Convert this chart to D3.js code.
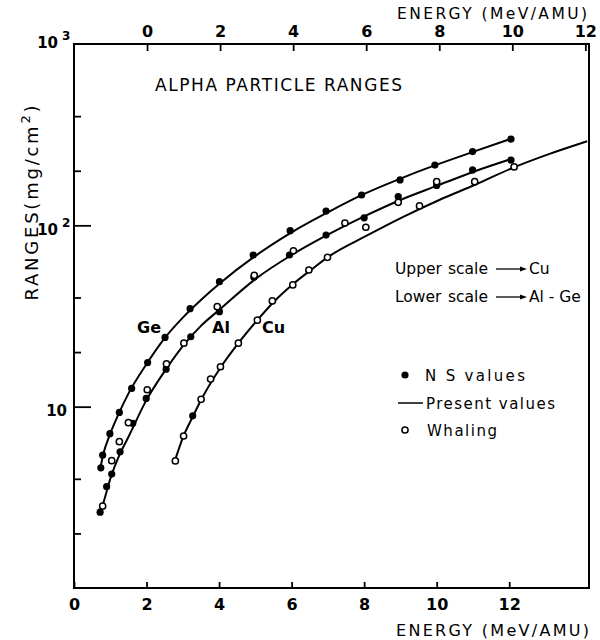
<!DOCTYPE html>
<html><head><meta charset="utf-8">
<script src="https://cdn.jsdelivr.net/npm/d3@7"></script>
<style>
body{margin:0;background:#fff;}
svg{display:block;font-family:"DejaVu Sans",sans-serif;}
</style></head>
<body><svg id="chart" width="600" height="640"></svg>
<script>
// Energy ticks (MeV/AMU): lower scale for Al and Ge, upper scale for Cu
const lowerTicks = [0, 2, 4, 6, 8, 10, 12];
const upperTicks = [0, 2, 4, 6, 8, 10, 12];
const majorRangeTicks = [10, 100];
const minorRangeTicks = [2, 4, 20, 40, 200, 400];

// Present values (solid curves): [energy, range in mg/cm2]
const geCurve = [[0.72,4.5],[0.8,5.4],[1.0,7.1],[1.25,9.3],[1.5,11.8],[2.0,17.2],[2.5,23.9],[3.0,31],[3.5,38.8],[4.0,47.5],[5.0,67.8],[6.0,91.5],[7.0,118],[8.0,149],[9.0,181],[10.0,216],[11.0,254],[12.05,300]];
const alCurve = [[0.72,2.6],[0.8,2.9],[1.0,4.0],[1.25,5.4],[1.5,6.8],[2.0,10.9],[2.5,15.7],[3.0,21.6],[3.5,27.9],[4.0,34.1],[5.0,50.5],[6.0,68.6],[7.0,88.8],[8.0,112],[9.0,138],[10.0,165],[11.0,197],[12.05,232]];
const cuCurve = [[0.75,4.95],[1.0,6.9],[1.25,8.8],[1.5,11.1],[2.0,16.3],[2.5,22.4],[3.0,29.7],[3.5,38.4],[4.0,47.5],[4.5,57],[5.0,67.8],[6.0,87.4],[7.0,111],[8.0,138],[9.0,168],[10.0,207],[11.0,247],[12.05,291]];

// NS values (filled dots)
const geNS = [[0.74,4.6],[0.79,5.4],[0.99,7.1],[1.25,9.3],[1.59,12.6],[2.03,17.5],[2.51,24.1],[3.2,34.7],[4.01,48.9],[4.94,68.6],[5.96,93.4],[6.95,120],[7.93,147],[8.99,178],[9.95,215],[10.99,255],[12.05,299]];
const alNS = [[0.72,2.62],[0.90,3.62],[1.04,4.25],[1.27,5.64],[1.62,8.09],[1.99,11.1],[2.54,16.1],[3.22,24.3],[4.01,33.4],[4.96,51.7],[5.94,68.6],[6.95,88.4],[8.0,110],[8.94,144],[10.0,166],[10.99,202],[12.05,229]];
const cuNS = [[1.25,8.9]];

// Whaling (open circles)
const alWhaling = [[0.79,2.83],[1.04,5.04],[1.25,6.41],[1.50,8.16],[2.02,12.4],[2.55,17.2],[3.03,22.4],[3.95,35.6],[4.97,53],[6.05,72.4],[7.47,103],[8.94,134],[10.0,174]];
const cuWhaling = [[0.775,5.02],[1.00,6.89],[1.48,10.98],[1.74,14.2],[2.01,16.6],[2.50,22.4],[3.02,30.0],[3.43,38.3],[3.99,46.9],[4.43,56.7],[4.94,66.6],[5.99,97.6],[7.46,128],[8.97,174],[10.05,210]];

const svg = d3.select("#chart");
const L = 74, R = 589, T = 44, B = 588;

const xLower = d3.scaleLinear().domain([0, 14.2]).range([L, R]);
const xUpper = d3.scaleLinear().domain([-2, 12.1]).range([L, R]);
const y = d3.scaleLog().domain([1, 1000]).range([B, T]);

// frame
svg.append("rect").attr("x", L).attr("y", T).attr("width", R - L).attr("height", B - T)
  .attr("fill", "none").attr("stroke", "#000").attr("stroke-width", 2);

// bottom axis
const gB = svg.append("g").attr("transform", `translate(0,${B})`)
  .call(d3.axisBottom(xLower).tickValues(lowerTicks).tickSizeInner(-6).tickSizeOuter(0).tickPadding(11));
// top axis
const gT = svg.append("g").attr("transform", `translate(0,${T})`)
  .call(d3.axisTop(xUpper).tickValues(upperTicks).tickSizeInner(-7).tickSizeOuter(0).tickPadding(7));
// left ticks (inward)
const gM = svg.append("g").attr("transform", `translate(${L},0)`)
  .call(d3.axisRight(y).tickValues(majorRangeTicks).tickSize(17).tickFormat(""));
const gm = svg.append("g").attr("transform", `translate(${L},0)`)
  .call(d3.axisRight(y).tickValues(minorRangeTicks).tickSize(7).tickFormat(""));

[gB, gT, gM, gm].forEach(g => {
  g.select(".domain").remove();
  g.selectAll(".tick line").attr("stroke", "#000").attr("stroke-width", 1.8);
  g.selectAll(".tick text").attr("fill", "#000").attr("font-size", 16)
    .attr("font-family", "DejaVu Sans").attr("font-weight", "bold");
});

// range labels with exponents
const rangeLabels = [
  {v: 1000, base: "10", exp: "3", xr: 58, dyb: 4},
  {v: 100, base: "10", exp: "2", xr: 58, dyb: 10},
  {v: 10, base: "10", exp: "", xr: 67, dyb: 9}
];
rangeLabels.forEach(d => {
  const yy = y(d.v);
  svg.append("text").attr("x", d.xr).attr("y", yy + d.dyb).attr("text-anchor", "end")
    .attr("font-size", 15).attr("font-weight", "bold").text(d.base);
  if (d.exp) svg.append("text").attr("x", d.xr + 4).attr("y", yy + d.dyb - 8)
    .attr("font-size", 12).attr("font-weight", "bold").text(d.exp);
});

// axis titles
svg.append("text").attr("x", 397).attr("y", 19).attr("font-size", 15.5)
  .attr("textLength", 190).attr("lengthAdjust", "spacing").text("ENERGY  (MeV/AMU)");
svg.append("text").attr("x", 396).attr("y", 636).attr("font-size", 16)
  .attr("textLength", 193).attr("lengthAdjust", "spacing").text("ENERGY   (MeV/AMU)");
const yt = svg.append("text").attr("transform", "translate(38,203) rotate(-90)")
  .attr("text-anchor", "middle").attr("font-size", 18)
  .attr("textLength", 195).attr("lengthAdjust", "spacing");
yt.append("tspan").text("RANGES(mg/cm");
yt.append("tspan").attr("dy", -8).attr("font-size", 13).text("2");
yt.append("tspan").attr("dy", 8).text(")");

// chart title
svg.append("text").attr("x", 155).attr("y", 91).attr("font-size", 17)
  .attr("textLength", 247).attr("lengthAdjust", "spacing").text("ALPHA  PARTICLE  RANGES");

// curves
const lineLower = d3.line().x(d => xLower(d[0])).y(d => y(d[1])).curve(d3.curveMonotoneX);
const lineUpper = d3.line().x(d => xUpper(d[0])).y(d => y(d[1])).curve(d3.curveMonotoneX);
[[geCurve, lineLower], [alCurve, lineLower], [cuCurve, lineUpper]].forEach(([data, gen]) => {
  svg.append("path").attr("d", gen(data)).attr("fill", "none")
    .attr("stroke", "#000").attr("stroke-width", 2);
});

// points
function filled(data, xs) {
  svg.append("g").selectAll("circle").data(data).join("circle")
    .attr("cx", d => xs(d[0])).attr("cy", d => y(d[1])).attr("r", 3.6).attr("fill", "#000");
}
function open(data, xs) {
  svg.append("g").selectAll("circle").data(data).join("circle")
    .attr("cx", d => xs(d[0])).attr("cy", d => y(d[1])).attr("r", 3.1)
    .attr("fill", "#fff").attr("stroke", "#000").attr("stroke-width", 1.5);
}
filled(geNS, xLower);
filled(alNS, xLower);
open(alWhaling, xLower);
open(cuWhaling, xUpper);
filled(cuNS, xUpper);

// curve labels
[["Ge", 137], ["Al", 212], ["Cu", 262]].forEach(([t, x]) => {
  svg.append("text").attr("x", x).attr("y", 333).attr("font-size", 16).attr("font-weight", "bold").text(t);
});

// scale notes
function arrow(x0, x1, yy) {
  svg.append("line").attr("x1", x0).attr("x2", x1 - 5).attr("y1", yy).attr("y2", yy)
    .attr("stroke", "#000").attr("stroke-width", 1.3);
  svg.append("path").attr("d", `M${x1 - 7},${yy - 2.5}L${x1},${yy}L${x1 - 7},${yy + 2.5}Z`).attr("fill", "#000");
}
const noteSize = 15;
function word(t, x, yy) {
  svg.append("text").attr("x", x).attr("y", yy).attr("font-size", 15.5).text(t);
}
word("Upper", 395, 274);
word("scale", 448, 274);
arrow(496, 527, 269);
word("Cu", 529, 274);
word("Lower", 395, 302);
word("scale", 448, 302);
arrow(496, 527, 297);
word("Al - Ge", 529, 302);

// legend
svg.append("circle").attr("cx", 405).attr("cy", 375).attr("r", 3.6).attr("fill", "#000");
svg.append("text").attr("x", 425).attr("y", 381).attr("font-size", noteSize)
  .attr("textLength", 100).attr("lengthAdjust", "spacing").text("N S  values");
svg.append("line").attr("x1", 398).attr("x2", 423).attr("y1", 403).attr("y2", 403)
  .attr("stroke", "#000").attr("stroke-width", 1.5);
svg.append("text").attr("x", 426).attr("y", 409).attr("font-size", noteSize)
  .attr("textLength", 129).attr("lengthAdjust", "spacing").text("Present  values");
svg.append("circle").attr("cx", 405).attr("cy", 430).attr("r", 3.1).attr("fill", "#fff")
  .attr("stroke", "#000").attr("stroke-width", 1.5);
svg.append("text").attr("x", 427).attr("y", 436).attr("font-size", noteSize)
  .attr("textLength", 70).attr("lengthAdjust", "spacing").text("Whaling");
</script>
</body></html>
